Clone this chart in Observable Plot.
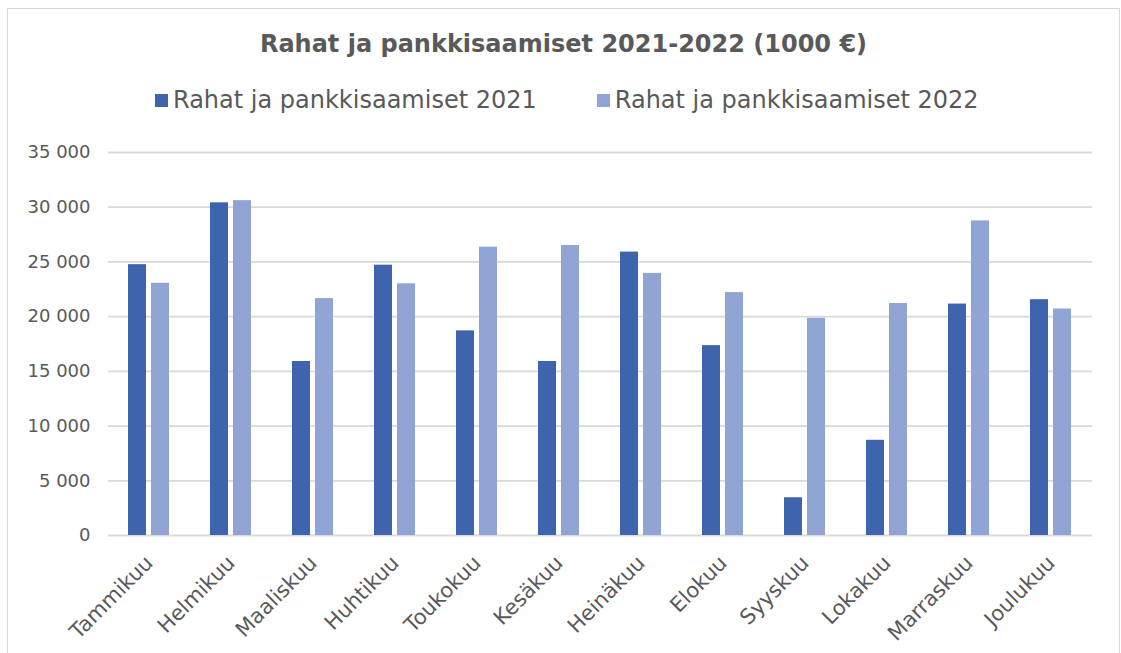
<!DOCTYPE html>
<html><head><meta charset="utf-8">
<script src="https://cdn.jsdelivr.net/npm/d3@7"></script>
<script src="https://cdn.jsdelivr.net/npm/@observablehq/plot@0.6"></script>
<style>
body{margin:0;background:#fff;font-family:"DejaVu Sans",sans-serif;width:1121px;height:653px;overflow:hidden;position:relative;}
#frame{position:absolute;left:7px;top:8px;width:1113px;height:700px;border:1px solid #d9d9d9;box-sizing:border-box;}
#title{position:absolute;left:3px;width:1121px;top:30px;text-align:center;font-weight:bold;font-size:24px;line-height:28px;color:#595959;}
#legend{position:absolute;left:155px;top:86px;display:flex;align-items:center;font-size:24px;line-height:28px;color:#595959;}
#legend .item{display:flex;align-items:center;margin-right:60px;}
#legend .sw{width:13px;height:13px;margin-right:5px;}
#chart{position:absolute;left:0;top:130px;}
</style></head>
<body>
<div id="frame"></div>
<div id="title"></div>
<div id="legend"></div>
<div id="chart"></div>
<script>
const titleText = "Rahat ja pankkisaamiset 2021-2022 (1000 €)";
const months = ["Tammikuu","Helmikuu","Maaliskuu","Huhtikuu","Toukokuu","Kesäkuu","Heinäkuu","Elokuu","Syyskuu","Lokakuu","Marraskuu","Joulukuu"];
const seriesNames = ["Rahat ja pankkisaamiset 2021","Rahat ja pankkisaamiset 2022"];
const values2021 = [24750,30400,15900,24700,18700,15900,25900,17350,3450,8700,21150,21550];
const values2022 = [23050,30600,21650,23000,26350,26500,23950,22200,19850,21200,28750,20700];
const yTicks = [0,5000,10000,15000,20000,25000,30000,35000];
const colors = ["#3E64AD","#91A5D4"];

document.getElementById("title").textContent = titleText;
const leg = document.getElementById("legend");
seriesNames.forEach((s,i)=>{
  const it = document.createElement("div"); it.className="item";
  const sw = document.createElement("div"); sw.className="sw"; sw.style.background=colors[i];
  const tx = document.createElement("span"); tx.textContent = s;
  it.appendChild(sw); it.appendChild(tx); leg.appendChild(it);
});

const data = [];
months.forEach((m,i)=>{
  data.push({month:m, series:seriesNames[0], value:values2021[i]});
  data.push({month:m, series:seriesNames[1], value:values2022[i]});
});

const fmt = d => d3.format(",")(d).replace(/,/g," ");

const chart = Plot.plot({
  width: 1121,
  height: 525,
  marginLeft: 108,
  marginRight: 29,
  marginTop: 22,
  marginBottom: 120,
  style: {fontFamily: "DejaVu Sans, sans-serif", fontSize: "18px", color: "#595959", background: "transparent"},
  fx: {domain: months, padding: 0, axis: null},
  x: {domain: seriesNames, axis: null, paddingInner: 0.213, paddingOuter: 0.851},
  y: {domain: [0,35000], ticks: yTicks, tickFormat: fmt, tickSize: 0, tickPadding: 18, label: null},
  color: {domain: seriesNames, range: colors},
  marks: [
    Plot.ruleY(yTicks, {stroke: "#d9d9d9", strokeWidth: 1.8}),
    Plot.barY(data, {fx: "month", x: "series", y: "value", fill: "series"}),
    Plot.axisFx({anchor: "bottom", tickRotate: -45, tickSize: 0, tickPadding: 12, dx: 0, dy: 12, fontSize: 21, label: null, fill: "#595959"})
  ]
});
document.getElementById("chart").appendChild(chart);
</script>
</body></html>
